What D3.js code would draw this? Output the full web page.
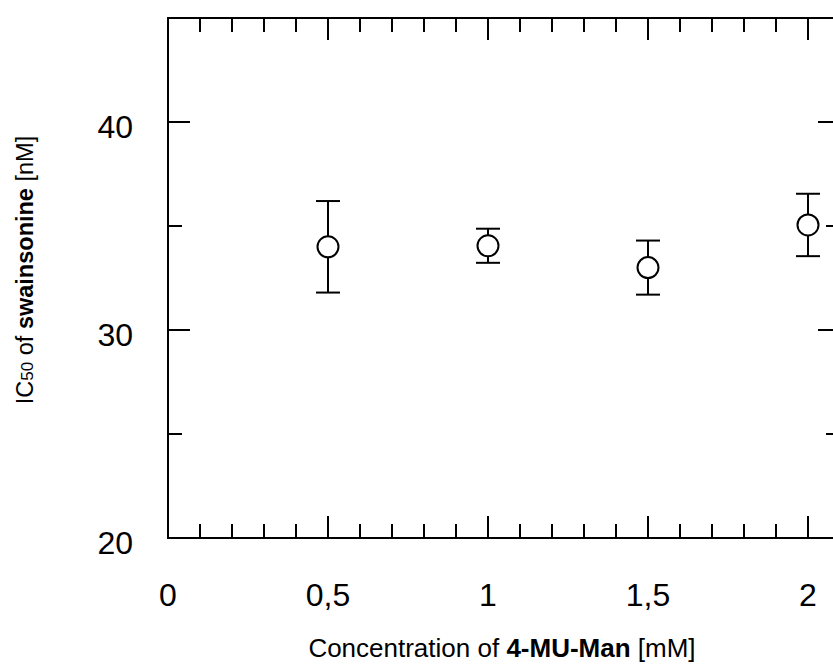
<!DOCTYPE html>
<html>
<head>
<meta charset="utf-8">
<script src="https://cdn.jsdelivr.net/npm/d3@7"></script>
<style>
  html, body { margin: 0; padding: 0; background: #fff; }
  svg { display: block; font-family: "Liberation Sans", Arial, sans-serif; }
</style>
</head>
<body>
<svg id="chart" width="833" height="666"></svg>
<script>
// Swainsonine IC50 measured at several substrate concentrations
const concentrations = [0.5, 1, 1.5, 2];          // mM 4-MU-Man
const ic50Mean      = [34.0, 34.05, 33.0, 35.05];  // nM
const ic50Err       = [2.2, 0.82, 1.3, 1.5];       // nM, +/- error

const xMajorTicks = [0, 0.5, 1, 1.5, 2];
const xTickLabels = ["0", "0,5", "1", "1,5", "2"];
const yMajorTicks = [20, 30, 40];
const yTickLabels = ["20", "30", "40"];

const svg = d3.select("#chart");

const x = d3.scaleLinear().domain([0, 2.1]).range([168, 168 + 2.1 * 320]);
const y = d3.scaleLinear().domain([20, 45]).range([538, 18]);

const x0 = x(0), x1 = x(2.1), y0 = y(20), y1 = y(45);
const majorLen = 22, minorLen = 14;

const frame = svg.append("g").attr("stroke", "#000").attr("stroke-width", 2).attr("fill", "none");
frame.append("rect").attr("x", x0).attr("y", y1).attr("width", x1 - x0).attr("height", y0 - y1);

// x ticks: minor every 0.1, major every 0.5, on top and bottom edges pointing inward
const xAll = d3.range(1, 21).map(i => +(i * 0.1).toFixed(1));
const isMajorX = v => Math.abs(v * 2 - Math.round(v * 2)) < 1e-6;
frame.selectAll("line.xb").data(xAll).join("line")
  .attr("x1", d => x(d)).attr("x2", d => x(d))
  .attr("y1", y0).attr("y2", d => y0 - (isMajorX(d) ? majorLen : minorLen));
frame.selectAll("line.xt").data(xAll).join("line")
  .attr("x1", d => x(d)).attr("x2", d => x(d))
  .attr("y1", y1).attr("y2", d => y1 + (isMajorX(d) ? majorLen : minorLen));

// y ticks: major every 10, minor at 5s, on left and right edges pointing inward
const yAll = [25, 30, 35, 40];
const isMajorY = v => v % 10 === 0;
frame.selectAll("line.yl").data(yAll).join("line")
  .attr("y1", d => y(d)).attr("y2", d => y(d))
  .attr("x1", x0).attr("x2", d => x0 + (isMajorY(d) ? majorLen : minorLen));
frame.selectAll("line.yr").data(yAll).join("line")
  .attr("y1", d => y(d)).attr("y2", d => y(d))
  .attr("x1", x1).attr("x2", d => x1 - (isMajorY(d) ? majorLen : minorLen));

// tick labels
svg.append("g").selectAll("text").data(xMajorTicks).join("text")
  .attr("x", d => x(d)).attr("y", 606)
  .attr("text-anchor", "middle").attr("font-size", 32).attr("fill", "#000")
  .text((d, i) => xTickLabels[i]);
svg.append("g").selectAll("text").data(yMajorTicks).join("text")
  .attr("x", 133).attr("y", d => y(d) + 16)
  .attr("text-anchor", "end").attr("font-size", 32).attr("fill", "#000")
  .text((d, i) => yTickLabels[i]);

// axis titles
const xt = svg.append("text").attr("x", 502).attr("y", 657)
  .attr("text-anchor", "middle").attr("font-size", 26).attr("fill", "#000");
xt.append("tspan").text("Concentration of ");
xt.append("tspan").attr("font-weight", "bold").text("4-MU-Man");
xt.append("tspan").text(" [mM]");

const yt = svg.append("text").attr("transform", "translate(33,270) rotate(-90)")
  .attr("text-anchor", "middle").attr("font-size", 23.5).attr("fill", "#000");
yt.append("tspan").text("IC");
yt.append("tspan").attr("font-size", 17).text("50");
yt.append("tspan").text(" of ");
yt.append("tspan").attr("font-weight", "bold").text("swainsonine");
yt.append("tspan").text(" [nM]");

// error bars and markers
const pts = concentrations.map((c, i) => ({ c, m: ic50Mean[i], e: ic50Err[i] }));
const g = svg.append("g").attr("stroke", "#000").attr("stroke-width", 2);
g.selectAll("line.v").data(pts).join("line")
  .attr("x1", d => x(d.c)).attr("x2", d => x(d.c))
  .attr("y1", d => y(d.m + d.e)).attr("y2", d => y(d.m - d.e));
g.selectAll("line.cu").data(pts).join("line")
  .attr("x1", d => x(d.c) - 12).attr("x2", d => x(d.c) + 12)
  .attr("y1", d => y(d.m + d.e)).attr("y2", d => y(d.m + d.e));
g.selectAll("line.cl").data(pts).join("line")
  .attr("x1", d => x(d.c) - 12).attr("x2", d => x(d.c) + 12)
  .attr("y1", d => y(d.m - d.e)).attr("y2", d => y(d.m - d.e));
g.selectAll("circle").data(pts).join("circle")
  .attr("cx", d => x(d.c)).attr("cy", d => y(d.m)).attr("r", 10.5)
  .attr("fill", "#fff");
</script>
</body>
</html>
